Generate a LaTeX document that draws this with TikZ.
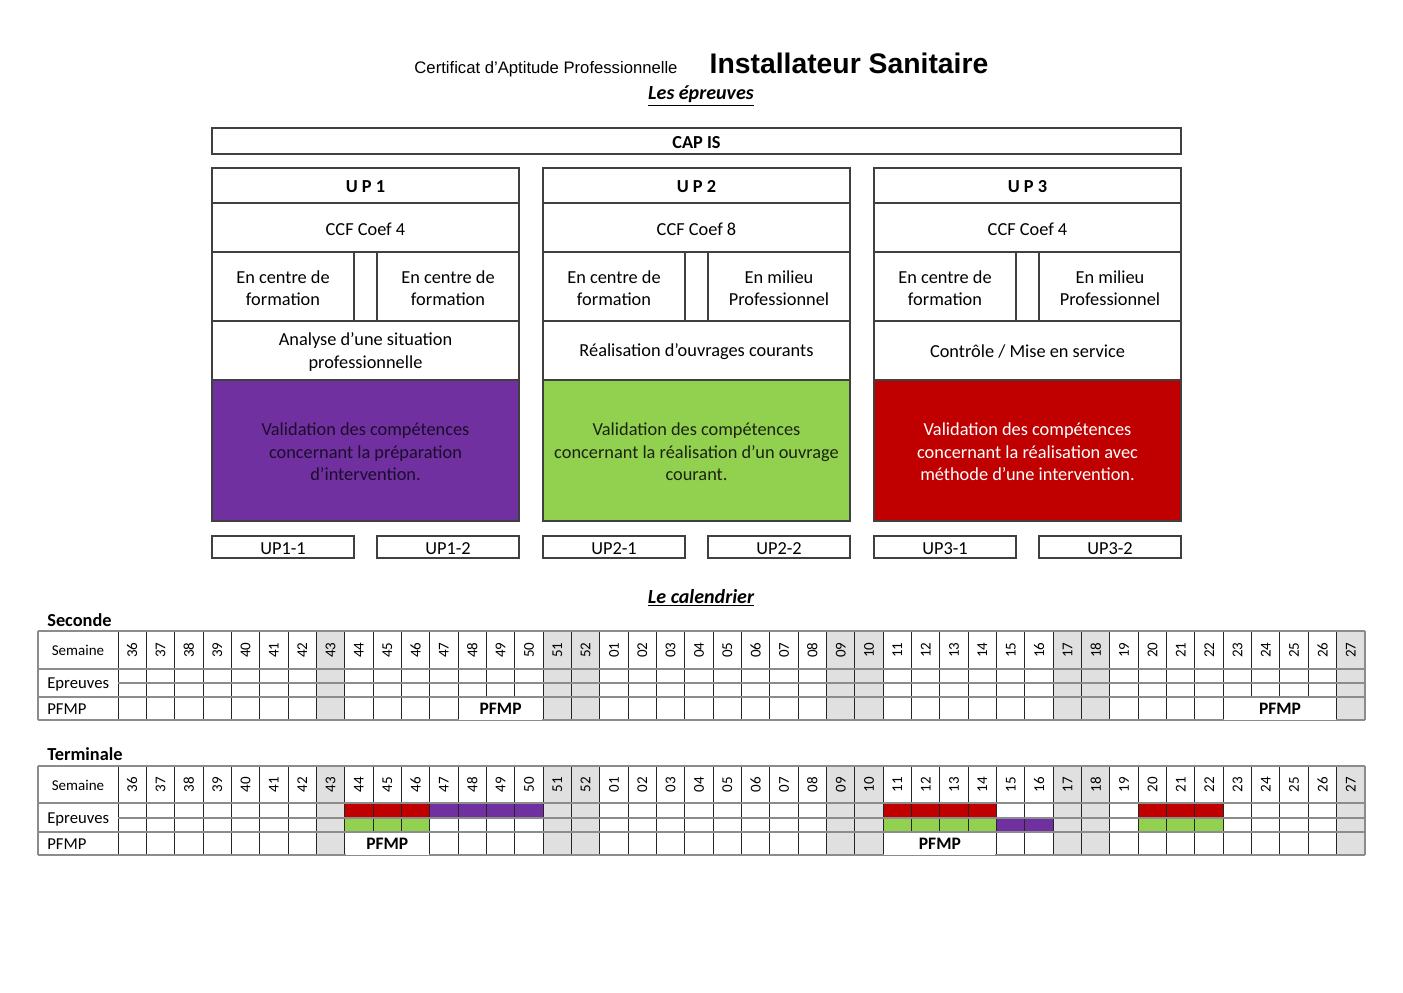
\documentclass[tikz,border=0pt]{standalone}
\usepackage{fontspec}
\setmainfont{Carlito}
\newfontfamily\arialf{Liberation Sans}
\definecolor{upvio}{HTML}{7030A0}
\definecolor{upgreen}{HTML}{92D050}
\definecolor{upred}{HTML}{C00000}
\definecolor{vtxt}{HTML}{1C0C2C}
\definecolor{gtxt}{HTML}{1A240F}
\definecolor{wkgray}{HTML}{E0E0E0}
\definecolor{hlcol}{HTML}{8C8C8C}
\tikzset{
  boxline/.style={draw=black!75, line width=0.7pt},
  boxtext/.style={inner sep=0pt, outer sep=0pt, align=center,
    font=\fontsize{11pt}{13.5pt}\selectfont},
  boldtext/.style={font=\bfseries\fontsize{11pt}{13pt}\selectfont},
  vl/.style={draw=black!85, line width=0.6pt},
  hl/.style={draw=hlcol, line width=0.7pt},
  wk/.style={rotate=90, inner sep=0pt, font=\fontsize{9pt}{10pt}\selectfont},
  rowlab/.style={inner sep=0pt, font=\fontsize{10pt}{12pt}\selectfont},
  pfmpcell/.style={fill=white, inner sep=0pt, font=\bfseries\fontsize{10.5pt}{12pt}\selectfont},
  sectitle/.style={anchor=base west, inner sep=0pt, font=\bfseries\fontsize{11pt}{13pt}\selectfont},
  headline/.style={anchor=base, inner sep=0pt, font=\bfseries\itshape\fontsize{12pt}{14pt}\selectfont}
}
\def\cw{28.3409}
% \bx{fill}{text options}{name}{x1}{y1}{x2}{y2}{text}
\newcommand\bx[8]{%
  \draw[boxline, fill=#1] (#4,#5) rectangle (#6,#7);
  \node[boxtext,#2] (#3) at ({((#4)+(#6))/2},{((#5)+(#7))/2+1.5}) {#8};}
% \upblock{n}{x0}{coef}{left}{right}{desc}{fill}{textcolor}{validation}
\newcommand\upblock[9]{%
  \bx{white}{boldtext}{up#1t}{#2}{168}{#2+307}{203}{U P #1}
  \bx{white}{}{up#1c}{#2}{203}{#2+307}{252}{CCF Coef #3}
  \bx{white}{}{up#1l}{#2}{252}{#2+142}{321}{#4}
  \bx{white}{}{up#1m}{#2+142}{252}{#2+165}{321}{}
  \bx{white}{}{up#1r}{#2+165}{252}{#2+307}{321}{#5}
  \bx{white}{}{up#1d}{#2}{321}{#2+307}{380}{#6}
  \bx{#7}{text=#8}{up#1v}{#2}{380}{#2+307}{521}{#9}
  \bx{white}{}{up#1a}{#2}{536}{#2+142}{558}{UP#1-1}
  \bx{white}{}{up#1b}{#2+165}{536}{#2+307}{558}{UP#1-2}
}
% \calbg{y0}{y4}
\newcommand\calbg[2]{%
  \foreach \g in {7,15,16,25,26,33,34,43}
    \fill[wkgray] ({118+\g*\cw},#1) rectangle ({118+(\g+1)*\cw},#2);
}
% \cc{colour}{list of indices}{ytop}{ybottom}
\newcommand\cc[4]{%
  \foreach \g in {#2}
    \fill[#1] ({118+\g*\cw},#3) rectangle ({118+(\g+1)*\cw},#4);
}
% \calgrid{prefix}{y0}{y1}{y2}{y3}{y4}
\newcommand\calgrid[6]{%
  \foreach \k in {1,...,43} \draw[vl] ({118+\k*\cw},#2) -- ({118+\k*\cw},#6);
  \draw[vl] (118,#2) -- (118,#6);
  \draw[hl] (38,#2) -- (38,#6);
  \draw[hl] (1365,#2) -- (1365,#6);
  \draw[hl] (38,#2) -- (1365,#2);
  \draw[hl] (38,#3) -- (1365,#3);
  \draw[hl] (118,#4) -- (1365,#4);
  \draw[hl] (38,#5) -- (1365,#5);
  \draw[hl] (38,#6) -- (1365,#6);
  \foreach \w [count=\i from 0] in {36,37,38,39,40,41,42,43,44,45,46,47,48,49,50,51,52,01,02,03,04,05,06,07,08,09,10,11,12,13,14,15,16,17,18,19,20,21,22,23,24,25,26,27}
    \node[wk] (#1w\w) at ({118+(\i+0.5)*\cw},{(#2+#3)/2}) {\w};
  \node[rowlab, font=\fontsize{9pt}{11pt}\selectfont] (#1sem) at (78,{(#2+#3)/2+0.5}) {Semaine};
  \node[rowlab, anchor=west] (#1epr) at (47,{(#3+#5)/2+1.5}) {Epreuves};
  \node[rowlab, anchor=west] (#1pf) at (47,{(#5+#6)/2+0.5}) {PFMP};
}
% \pfmp{name}{first index}{count}{y3}{y4}
\newcommand\pfmp[5]{%
  \node[pfmpcell, minimum width={(#3*\cw-2.2)*0.6pt}, minimum height={((#5)-(#4)-1.6)*0.6pt}] (#1) at ({118+(#2+#3/2)*\cw},{((#4)+(#5))/2+0.5}) {PFMP};
}
\begin{document}
\begin{tikzpicture}[x=0.6pt,y=-0.6pt]
\useasboundingbox (0,0) rectangle (1403,992);
% titles
\node[anchor=base, inner sep=0pt, font=\arialf\fontsize{10pt}{12pt}\selectfont] (cert) at (546,73.5) {Certificat d’Aptitude Professionnelle};
\node[anchor=base, inner sep=0pt, font=\arialf\bfseries\fontsize{17pt}{20pt}\selectfont] (inst) at (849,73.5) {Installateur Sanitaire};
\node[headline] (epr) at (701,99.5) {\underline{Les épreuves}};
% CAP IS
\bx{white}{boldtext}{capis}{212}{128}{1181}{154}{CAP IS}
% UP blocks
\upblock{1}{212}{4}{En centre de\\formation}{En centre de\\formation}{Analyse d’une situation\\professionnelle}{upvio}{vtxt}{Validation des compétences\\concernant la préparation\\d’intervention.}
\upblock{2}{543}{8}{En centre de\\formation}{En milieu\\Professionnel}{Réalisation d’ouvrages courants}{upgreen}{gtxt}{Validation des compétences\\concernant la réalisation d’un ouvrage\\courant.}
\upblock{3}{874}{4}{En centre de\\formation}{En milieu\\Professionnel}{Contrôle / Mise en service}{upred}{white}{Validation des compétences\\concernant la réalisation avec\\méthode d’une intervention.}
% calendar
\node[headline] (cal) at (701,603) {\underline{Le calendrier}};
\node[sectitle] (sec) at (47,626) {Seconde};
\calbg{631}{720}
\calgrid{s}{631}{669}{683}{697}{720}
\pfmp{spf1}{12}{3}{697}{720}
\pfmp{spf2}{39}{4}{697}{720}
\node[sectitle] (ter) at (47,760) {Terminale};
\calbg{766}{855}
\cc{upred}{8,9,10,27,28,29,30,36,37,38}{803}{818}
\cc{upvio}{11,12,13,14}{803}{818}
\cc{upgreen}{8,9,10,27,28,29,30,36,37,38}{818}{832}
\cc{upvio}{31,32}{818}{832}
\calgrid{t}{766}{803}{818}{832}{855}
\pfmp{tpf1}{8}{3}{832}{855}
\pfmp{tpf2}{27}{4}{832}{855}
\end{tikzpicture}
\end{document}
